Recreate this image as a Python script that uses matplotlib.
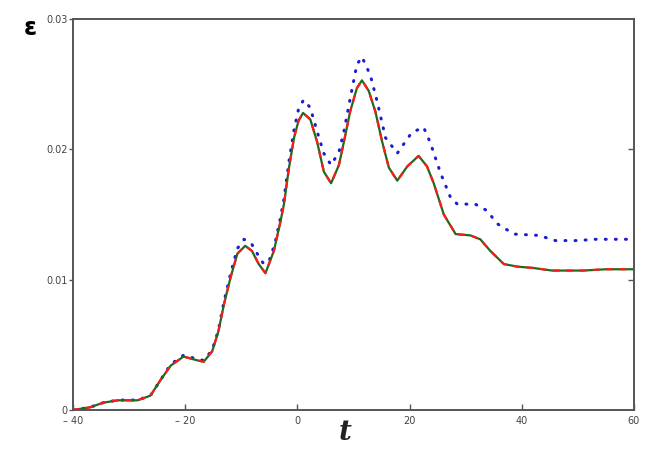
import numpy as np
import matplotlib.pyplot as plt

# Solid curve (green line with red dashes on top)
t_solid = [-40, -37, -34.6, -32, -28.5, -26.2, -24.4, -22.6, -20.3, -17.8, -16.7, -15.2,
           -14.1, -13.1, -11.9, -10.7, -9.3, -8.1, -6.9, -5.7, -4.2, -3.0, -2.4, -1.5,
           -0.6, 0.2, 1.0, 2.3, 3.5, 4.7, 6.0, 7.4, 8.3, 9.4, 10.6, 11.5, 12.7, 13.9,
           15.1, 16.3, 17.8, 19.6, 21.6, 23.1, 24.3, 26.1, 28.2, 30.8, 32.6, 34.4, 36.8,
           39.2, 42, 45.4, 51, 55, 60]
eps_solid = [0, 0.0002, 0.00056, 0.00074, 0.00074, 0.0011, 0.0023, 0.0034, 0.0041, 0.0038,
             0.0037, 0.0045, 0.006, 0.0081, 0.0102, 0.012, 0.0126, 0.0122, 0.0112, 0.0105,
             0.0122, 0.0145, 0.0158, 0.0186, 0.0209, 0.0222, 0.0228, 0.0223, 0.0206, 0.0183,
             0.0174, 0.0188, 0.0206, 0.0229, 0.0247, 0.0253, 0.0245, 0.0229, 0.0206, 0.0186,
             0.0176, 0.0187, 0.0195, 0.0187, 0.0174, 0.015, 0.0135, 0.0134, 0.0131, 0.0122,
             0.0112, 0.011, 0.0109, 0.0107, 0.0107, 0.0108, 0.0108]

# Blue dotted curve
t_blue = [-40, -37, -34.6, -32, -28.5, -26.2, -24.4, -22.6, -20.3, -17.8, -16.7, -15.2,
          -14.1, -13.1, -11.9, -10.7, -9.5, -8.1, -6.9, -6.0, -5.0, -4.0, -3.0, -2.4,
          -1.5, -0.6, 0.2, 1.1, 2.3, 3.5, 4.7, 6.0, 7.4, 8.3, 9.4, 10.6, 11.5, 13.0,
          14.2, 15.7, 17.8, 20.4, 22.5, 23.7, 25.5, 27.3, 28.5, 31.7, 33.8, 35.6, 38.6,
          43, 46, 50, 53, 60]
eps_blue = [0, 0.0002, 0.00056, 0.00076, 0.00076, 0.0011, 0.0023, 0.0035, 0.0042, 0.0039,
            0.0038, 0.0046, 0.0061, 0.0083, 0.0105, 0.0124, 0.0131, 0.0127, 0.0118, 0.0112,
            0.0115, 0.0128, 0.0148, 0.0162, 0.0191, 0.0215, 0.0231, 0.0238, 0.0232, 0.0214,
            0.0197, 0.0188, 0.0198, 0.0214, 0.0239, 0.0265, 0.0271, 0.0257, 0.0237, 0.0209,
            0.0197, 0.0213, 0.0217, 0.0205, 0.0182, 0.0163, 0.0158, 0.0158, 0.0153, 0.0143,
            0.0135, 0.0134, 0.013, 0.013, 0.0131, 0.0131]

x_ticks = [-40, -20, 0, 20, 40, 60]
y_ticks = [0, 0.01, 0.02, 0.03]
y_labels = ["0", "0.01", "0.02", "0.03"]

fig = plt.figure(figsize=(6.58, 4.55), dpi=100)
ax = fig.add_axes([0.111, 0.099, 0.8525, 0.859])

ax.plot(t_blue, eps_blue, color='#1c1cd6', lw=2.2, linestyle=(0, (0.3, 3.0)),
        dash_capstyle='round', solid_joinstyle='round')
ax.plot(t_solid, eps_solid, color='#1e6b1e', lw=1.6, solid_joinstyle='round')
ax.plot(t_solid, eps_solid, color='#ff1a1a', lw=1.6, linestyle=(0, (3, 3)))

ax.set_xlim(-40, 60)
ax.set_ylim(0, 0.03)

ax.set_xticks(x_ticks)
ax.set_xticklabels([f"\u2013 {abs(v)}" if v < 0 else str(v) for v in x_ticks])
ax.set_yticks(y_ticks)
ax.set_yticklabels(y_labels)

for s in ax.spines.values():
    s.set_color('#555555')
    s.set_linewidth(1.4)

ax.tick_params(axis='x', direction='in', length=4, width=1, colors='#555555',
               labelsize=7, labelcolor='#444444', pad=4)
ax.tick_params(axis='y', direction='out', length=3, width=1, colors='#555555',
               labelsize=7, labelcolor='#444444', pad=1)

# inward ticks on the right-hand frame
sec = ax.secondary_yaxis('right')
sec.set_yticks([0.01, 0.02])
sec.tick_params(direction='in', length=4, width=1, colors='#555555', labelright=False)
sec.spines['right'].set_visible(False)

fig.text(30 / 658, 1 - 28 / 455, "\u03b5", fontsize=17, fontweight='bold',
         ha='center', va='center', color='black')
fig.text(345 / 658, 1 - 432 / 455, "t", fontsize=20, fontweight='bold', style='italic',
         family='DejaVu Serif', ha='center', va='center', color='#222222')

fig.savefig("out.png", dpi=100)
